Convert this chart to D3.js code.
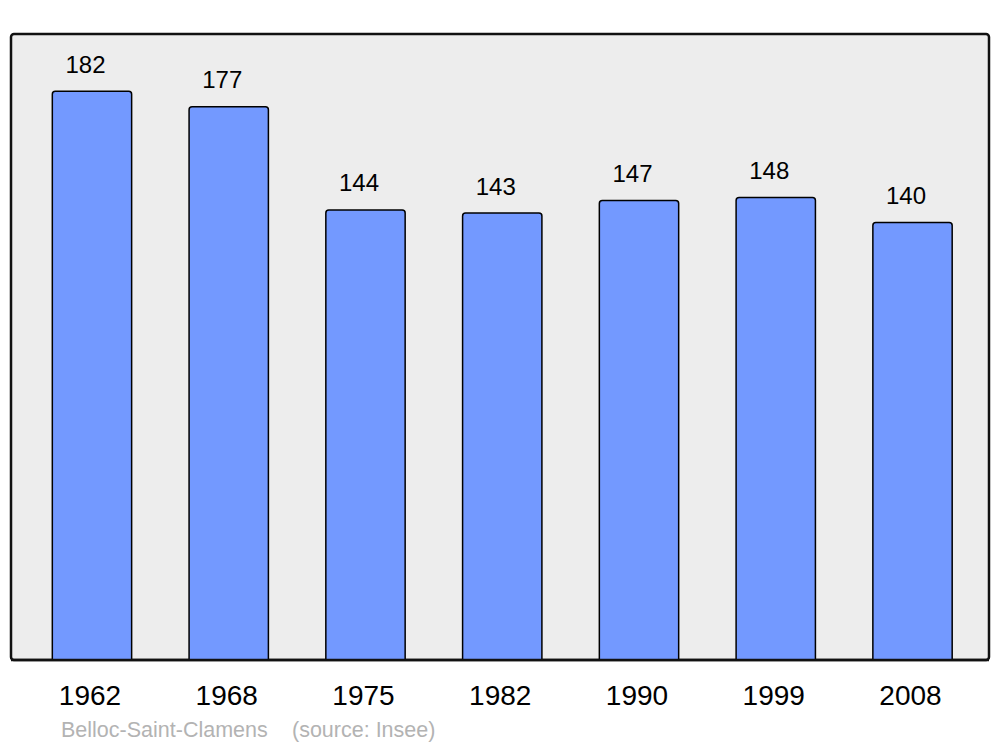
<html>
<head>
<meta charset="utf-8">
<script src="https://cdn.jsdelivr.net/npm/d3@7"></script>
<style>
  body { margin: 0; background: #fff; }
  svg { font-family: "Liberation Sans", Arial, sans-serif; }
</style>
</head>
<body>
<div id="chart"></div>
<script>
  var years = ["1962", "1968", "1975", "1982", "1990", "1999", "2008"];
  var population = [182, 177, 144, 143, 147, 148, 140];
  var commune = "Belloc-Saint-Clamens";
  var source = "(source: Insee)";

  var width = 1000, height = 747;

  var svg = d3.select("#chart").append("svg")
    .attr("width", width)
    .attr("height", height);

  // panel
  svg.append("rect")
    .attr("x", 11).attr("y", 34)
    .attr("width", 978).attr("height", 626)
    .attr("rx", 3)
    .attr("fill", "#ededed")
    .attr("stroke", "#111")
    .attr("stroke-width", 2.5);

  var x = d3.scaleBand()
    .domain(years)
    .range([23.6, 980.9])
    .paddingInner(0.42)
    .paddingOuter(0.21);

  var y = d3.scaleLinear()
    .domain([0, 200.3])
    .range([660, 34]);

  var data = years.map(function(d, i) { return { year: d, value: population[i] }; });

  // bars with rounded top corners
  function barPath(d) {
    var x0 = x(d.year), w = x.bandwidth(), y0 = y(d.value), yb = y(0), r = 3;
    return "M" + x0 + "," + yb +
      "V" + (y0 + r) +
      "Q" + x0 + "," + y0 + " " + (x0 + r) + "," + y0 +
      "H" + (x0 + w - r) +
      "Q" + (x0 + w) + "," + y0 + " " + (x0 + w) + "," + (y0 + r) +
      "V" + yb;
  }

  svg.append("g").selectAll("path")
    .data(data).enter()
    .append("path")
    .attr("d", barPath)
    .attr("fill", "#7399ff")
    .attr("stroke", "#000")
    .attr("stroke-width", 1.5);

  // value labels
  svg.append("g").selectAll("text")
    .data(data).enter()
    .append("text")
    .attr("x", d => x(d.year) + x.bandwidth() / 2 - 6.5)
    .attr("y", d => y(d.value) - 18.5)
    .attr("text-anchor", "middle")
    .attr("font-size", "24px")
    .attr("fill", "#000")
    .text(d => d.value);

  // redraw the baseline over bar bottoms
  svg.append("line")
    .attr("x1", 11).attr("x2", 989)
    .attr("y1", 660).attr("y2", 660)
    .attr("stroke", "#111")
    .attr("stroke-width", 2.5);

  // year labels
  svg.append("g").selectAll("text")
    .data(years).enter()
    .append("text")
    .attr("x", d => x(d) + x.bandwidth() / 2 - 2)
    .attr("y", 705)
    .attr("text-anchor", "middle")
    .attr("font-size", "28px")
    .attr("fill", "#000")
    .text(d => d);

  // footer
  svg.append("text")
    .attr("x", 61).attr("y", 737)
    .attr("font-size", "21.5px")
    .attr("fill", "#b3b3b3")
    .text(commune);

  svg.append("text")
    .attr("x", 292).attr("y", 737)
    .attr("font-size", "21.5px")
    .attr("fill", "#b3b3b3")
    .text(source);
</script>
</body>
</html>
